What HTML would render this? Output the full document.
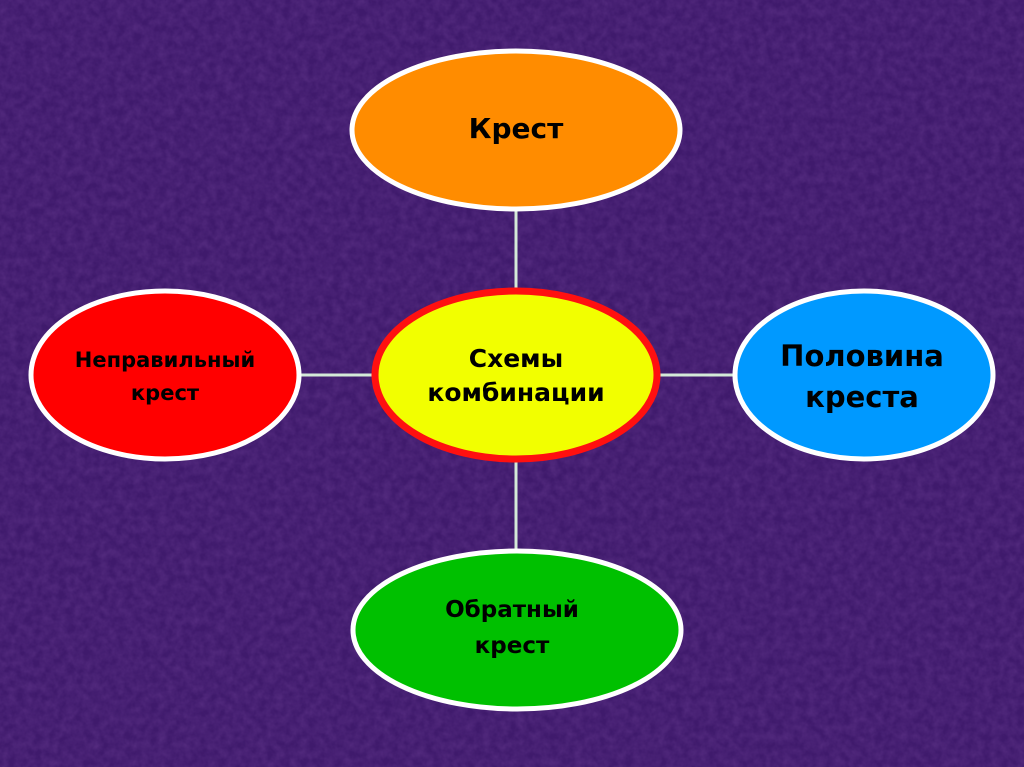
<!DOCTYPE html>
<html><head><meta charset="utf-8"><style>
html,body{margin:0;padding:0;}
body{width:1024px;height:767px;overflow:hidden;background:#3d1868;}
svg{display:block}
text{font-family:"DejaVu Sans","Liberation Sans",sans-serif;font-weight:bold;fill:#000;text-anchor:middle;}
</style></head><body>
<svg width="1024" height="767" viewBox="0 0 1024 767">
<defs>
<filter id="n" x="0" y="0" width="100%" height="100%">
<feTurbulence type="fractalNoise" baseFrequency="0.12" numOctaves="3" seed="3"/>
<feColorMatrix type="matrix" values="0 0 0 0 0.15  0 0 0 0 0.05  0 0 0 0 0.3  0 0 0 0.9 -0.2"/>
</filter>
</defs>
<rect width="1024" height="767" fill="#3f1a6c"/>
<rect width="1024" height="767" filter="url(#n)" opacity="0.7"/>
<g stroke="#d4ead8" stroke-width="3">
<line x1="516" y1="200" x2="516" y2="300"/>
<line x1="516" y1="455" x2="516" y2="560"/>
<line x1="290" y1="375" x2="380" y2="375"/>
<line x1="655" y1="375" x2="745" y2="375"/>
</g>
<ellipse cx="516" cy="130" rx="164" ry="79" fill="#ff8c00" stroke="#fff" stroke-width="5"/>
<ellipse cx="165" cy="375" rx="134" ry="84" fill="#ff0000" stroke="#fff" stroke-width="5"/>
<ellipse cx="864" cy="375" rx="129" ry="84" fill="#0099ff" stroke="#fff" stroke-width="5"/>
<ellipse cx="517" cy="630" rx="164" ry="79" fill="#00c000" stroke="#fff" stroke-width="5"/>
<ellipse cx="516" cy="375" rx="141" ry="84" fill="#f2ff00" stroke="#ff1010" stroke-width="7"/>
<text x="516" y="138" font-size="28">Крест</text>
<text x="165" y="367" font-size="21">Неправильный</text>
<text x="165" y="400" font-size="21">крест</text>
<text x="516" y="367" font-size="25">Схемы</text>
<text x="516" y="401" font-size="25">комбинации</text>
<text x="862" y="366" font-size="29">Половина</text>
<text x="862" y="407" font-size="29">креста</text>
<text x="512" y="617" font-size="23">Обратный</text>
<text x="512" y="653" font-size="23">крест</text>
</svg>
</body></html>
